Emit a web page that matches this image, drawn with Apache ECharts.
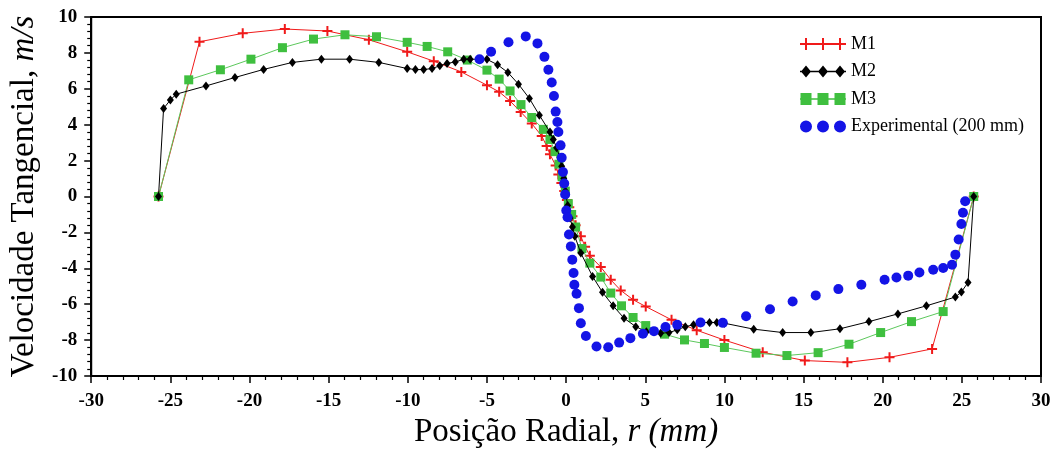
<!DOCTYPE html>
<html>
<head>
<meta charset="utf-8">
<script src="https://cdn.jsdelivr.net/npm/echarts@6/dist/echarts.min.js"></script>
<style>html,body{margin:0;padding:0;background:#fff;}#c{width:1060px;height:455px;}</style>
</head>
<body>
<div id="c"></div>
<script>
const xTicks = [-30, -25, -20, -15, -10, -5, 0, 5, 10, 15, 20, 25, 30];
const yTicks = [-10, -8, -6, -4, -2, 0, 2, 4, 6, 8, 10];
const seriesNames = ['M1', 'M2', 'M3', 'Experimental (200 mm)'];

const m1 = [
  [-25.75, 0], [-23.16, 8.62], [-20.43, 9.09], [-17.77, 9.33], [-15.08, 9.22], [-12.46, 8.73],
  [-10.04, 8.06], [-8.36, 7.54], [-6.62, 6.94], [-5.0, 6.2], [-4.23, 5.83], [-3.54, 5.32],
  [-2.87, 4.71], [-2.17, 4.06], [-1.54, 3.37], [-1.23, 2.81], [-1.02, 2.35], [-0.66, 1.73],
  [-0.49, 1.23], [-0.3, 0.75], [-0.12, 0.3], [0.05, -0.2], [0.2, -0.6], [0.4, -1.1],
  [0.6, -1.6], [0.93, -2.22], [1.2, -2.8], [1.5, -3.3], [2.19, -3.93], [2.82, -4.64],
  [3.45, -5.23], [4.23, -5.75], [5.03, -6.13], [6.66, -6.87], [8.25, -7.45], [10.0, -8.0],
  [12.42, -8.68], [15.08, -9.14], [17.77, -9.24], [20.43, -8.96], [23.12, -8.49], [25.75, 0]
];
const m2 = [
  [-25.75, 0], [-25.43, 4.9], [-25.0, 5.38], [-24.63, 5.7], [-22.75, 6.16], [-20.92, 6.63],
  [-19.11, 7.08], [-17.29, 7.47], [-15.46, 7.65], [-13.68, 7.65], [-11.83, 7.47], [-10.04, 7.13],
  [-9.52, 7.07], [-9.0, 7.07], [-8.47, 7.13], [-7.98, 7.28], [-7.52, 7.41], [-7.0, 7.5],
  [-6.47, 7.64], [-6.06, 7.65], [-5.0, 7.64], [-4.33, 7.34], [-3.68, 6.91], [-3.01, 6.26],
  [-2.32, 5.46], [-1.69, 4.53], [-1.02, 3.59], [-0.81, 3.18], [-0.6, 2.72], [-0.39, 2.16],
  [-0.28, 1.69], [-0.15, 1.0], [-0.05, 0.3], [0.1, -0.5], [0.25, -1.2], [0.4, -1.7],
  [0.55, -2.22], [0.93, -3.15], [1.67, -4.45], [2.3, -5.34], [2.97, -6.09], [3.66, -6.78],
  [4.4, -7.25], [5.07, -7.53], [5.97, -7.62], [6.5, -7.58], [7.02, -7.43], [7.53, -7.25],
  [8.05, -7.15], [8.53, -7.02], [9.06, -7.02], [9.52, -7.02], [10.0, -7.06], [11.85, -7.39],
  [13.68, -7.58], [15.46, -7.58], [17.3, -7.37], [19.13, -6.97], [20.96, -6.54], [22.76, -6.09],
  [24.59, -5.6], [24.97, -5.32], [25.39, -4.79], [25.75, 0]
];
const m3 = [
  [-25.75, 0], [-23.84, 6.5], [-21.84, 7.06], [-19.91, 7.65], [-17.92, 8.29], [-15.96, 8.77],
  [-13.97, 9.01], [-11.98, 8.9], [-10.04, 8.59], [-8.78, 8.36], [-7.48, 8.06], [-6.24, 7.6],
  [-5.0, 7.04], [-4.23, 6.54], [-3.54, 5.88], [-2.85, 5.12], [-2.17, 4.4], [-1.44, 3.74],
  [-1.02, 3.18], [-0.7, 2.5], [-0.45, 1.8], [-0.25, 1.1], [-0.05, 0.3], [0.14, -0.4],
  [0.35, -1.0], [0.6, -1.7], [1.0, -2.9], [1.5, -3.71], [2.19, -4.49], [2.82, -5.38],
  [3.5, -6.09], [4.23, -6.74], [5.03, -7.19], [6.22, -7.67], [7.48, -7.99], [8.74, -8.19],
  [10.0, -8.41], [12.0, -8.73], [13.95, -8.86], [15.92, -8.7], [17.87, -8.23], [19.87, -7.58],
  [21.82, -6.97], [23.82, -6.41], [25.75, 0]
];
const exp = [
  [-5.47, 7.65], [-4.74, 8.06], [-3.64, 8.59], [-2.55, 8.92], [-1.81, 8.53], [-1.37, 7.78],
  [-1.12, 7.06], [-0.91, 6.35], [-0.77, 5.6], [-0.66, 4.73], [-0.55, 4.15], [-0.49, 3.59],
  [-0.35, 2.85], [-0.28, 2.16], [-0.2, 1.36], [-0.12, 0.72], [-0.06, 0.11], [0.01, -0.78],
  [0.09, -1.16], [0.18, -2.12], [0.3, -2.78], [0.39, -3.52], [0.47, -4.26], [0.52, -4.92],
  [0.66, -5.42], [0.81, -6.22], [0.93, -7.06], [1.25, -7.77], [1.92, -8.36], [2.66, -8.4],
  [3.35, -8.14], [4.06, -7.89], [4.85, -7.65], [5.55, -7.5], [6.28, -7.27], [7.02, -7.15],
  [8.49, -7.02], [9.9, -7.04], [11.37, -6.67], [12.88, -6.28], [14.31, -5.85], [15.77, -5.51],
  [17.2, -5.16], [18.65, -4.92], [20.12, -4.64], [20.87, -4.51], [21.61, -4.41], [22.32, -4.23],
  [23.19, -4.08], [23.82, -3.98], [24.38, -3.8], [24.59, -3.24], [24.8, -2.4], [24.97, -1.53],
  [25.07, -0.91], [25.21, -0.26]
];

const FONT = 'Liberation Serif';
const C_RED = '#f01a1a', C_BLACK = '#000000', C_GREEN = '#3fbf3f', C_BLUE = '#1414e6';
const plusPath = 'path://M4,0H6V4H10V6H6V10H4V6H0V4H4Z';

const iconM1 = 'path://M0 5H46V7H0Z M5 0H7V12H5Z M22 0H24V12H22Z M39 0H41V12H39Z';
const iconM2 = 'path://M0 5.3H46V6.7H0Z M6 0L11 6L6 12L1 6Z M23 0L28 6L23 12L18 6Z M40 0L45 6L40 12L35 6Z';
const iconM3 = 'path://M0 5.3H46V6.7H0Z M0.5 0H11.5V12H0.5Z M17.5 0H28.5V12H17.5Z M34.5 0H45.5V12H34.5Z';
const iconEx = 'path://M0 6A6 6 0 1 0 12 6A6 6 0 1 0 0 6Z M17 6A6 6 0 1 0 29 6A6 6 0 1 0 17 6Z M34 6A6 6 0 1 0 46 6A6 6 0 1 0 34 6Z';

const chart = echarts.init(document.getElementById('c'), null, {renderer: 'canvas'});
const axisLabelStyle = {fontFamily: FONT, fontWeight: 'bold', fontSize: 19, color: '#000'};
chart.setOption({
  animation: false,
  backgroundColor: '#fff',
  grid: {left: 88, right: 19, top: 17, bottom: 79, show: true, borderColor: '#000', borderWidth: 2, containLabel: false},
  legend: {
    orient: 'vertical', left: 795, top: 30,
    itemWidth: 46, itemHeight: 12, itemGap: 9.5,
    symbolKeepAspect: false,
    textStyle: {fontFamily: FONT, fontSize: 18, color: '#000', lineHeight: 18},
    itemStyle: {borderWidth: 0},
    data: [
      {name: seriesNames[0], icon: iconM1},
      {name: seriesNames[1], icon: iconM2},
      {name: seriesNames[2], icon: iconM3},
      {name: seriesNames[3], icon: iconEx}
    ]
  },
  xAxis: {
    type: 'value', min: xTicks[0], max: xTicks[xTicks.length - 1], interval: 5,
    name: '{n|Posição Radial, }{i|r (mm)}', nameLocation: 'middle', nameGap: 36,
    nameTextStyle: {rich: {
      n: {fontFamily: FONT, fontSize: 33, color: '#000'},
      i: {fontFamily: FONT, fontSize: 33, fontStyle: 'italic', color: '#000'}
    }},
    axisLine: {onZero: false, lineStyle: {color: '#000', width: 2}},
    axisTick: {length: 7, lineStyle: {color: '#000', width: 1.5}},
    minorTick: {show: true, splitNumber: 5, length: 4, lineStyle: {color: '#000', width: 1.2}},
    axisLabel: Object.assign({margin: 16}, axisLabelStyle),
    splitLine: {show: false}
  },
  yAxis: {
    type: 'value', min: yTicks[0], max: yTicks[yTicks.length - 1], interval: 2,
    name: '{n|Velocidade Tangencial, }{i|m/s}', nameLocation: 'middle', nameGap: 44,
    nameTextStyle: {rich: {
      n: {fontFamily: FONT, fontSize: 33, color: '#000'},
      i: {fontFamily: FONT, fontSize: 33, fontStyle: 'italic', color: '#000'}
    }},
    axisLine: {onZero: false, lineStyle: {color: '#000', width: 2}},
    axisTick: {length: 7, lineStyle: {color: '#000', width: 1.5}},
    minorTick: {show: true, splitNumber: 5, length: 4, lineStyle: {color: '#000', width: 1.2}},
    axisLabel: Object.assign({margin: 14}, axisLabelStyle),
    splitLine: {show: false}
  },
  series: [
    {name: seriesNames[0], type: 'line', data: m1, symbol: plusPath, symbolSize: 10,
     itemStyle: {color: C_RED, borderWidth: 0}, lineStyle: {color: C_RED, width: 1}, z: 2},
    {name: seriesNames[1], type: 'line', data: m2, symbol: 'diamond', symbolSize: [7, 9],
     itemStyle: {color: C_BLACK, borderWidth: 0}, lineStyle: {color: C_BLACK, width: 1}, z: 4},
    {name: seriesNames[2], type: 'line', data: m3, symbol: 'rect', symbolSize: 9,
     itemStyle: {color: C_GREEN, borderWidth: 0}, lineStyle: {color: '#5cc85c', width: 1}, z: 3},
    {name: seriesNames[3], type: 'scatter', data: exp, symbol: 'circle', symbolSize: 10,
     itemStyle: {color: C_BLUE, opacity: 1, borderWidth: 0}, z: 5}
  ]
});
</script>
</body>
</html>
